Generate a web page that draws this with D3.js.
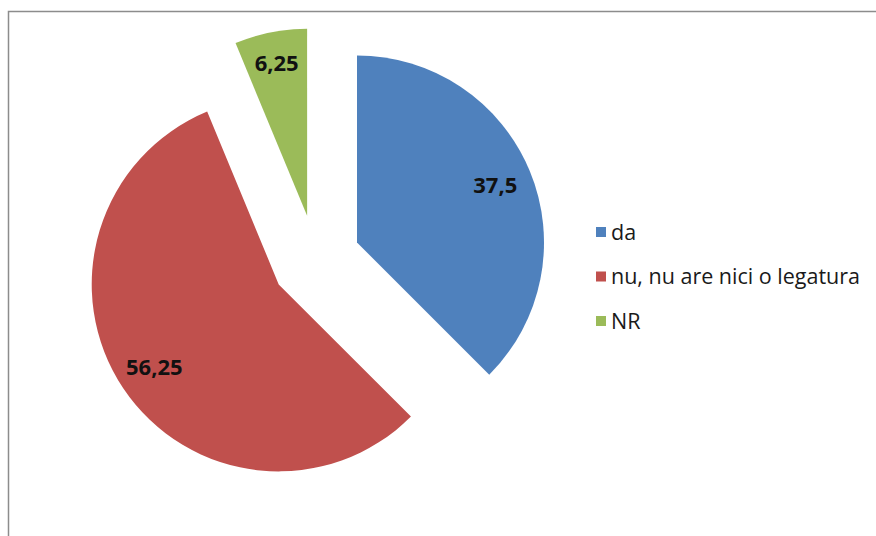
<!DOCTYPE html>
<html>
<head>
<meta charset="utf-8">
<script src="https://cdn.jsdelivr.net/npm/d3@7"></script>
<style>
  body { margin: 0; background: #fff; }
  svg { display: block; }
</style>
</head>
<body>
<div id="chart"></div>
<script>
// chart data
var categories = ["da", "nu, nu are nici o legatura", "NR"];
var values = [37.5, 56.25, 6.25];
var labels = ["37,5", "56,25", "6,25"];
var colors = ["#4F81BD", "#C0504D", "#9BBB59"];

var width = 876, height = 536;

var svg = d3.select("#chart").append("svg")
    .attr("width", width)
    .attr("height", height);

//chart area border
svg.append("rect")
    .attr("x", 8.5)
    .attr("y", 11.5)
    .attr("width", width + 20)
    .attr("height", height + 20)
    .attr("fill", "#fff")
    .attr("stroke", "#8c8c8c")
    .attr("stroke-width", 1.5);

//pie layout, clockwise from 12 o'clock, no sorting
var pie = d3.pie().sort(null).value(function(d){ return d; });
var slices = pie(values);

var radius = 187;
var explode = 44.6;
var cx = 315.8, cy = 259.6;

var arc = d3.arc().innerRadius(0).outerRadius(radius);

var g = svg.append("g").attr("transform", "translate(" + cx + "," + cy + ")");

var sliceG = g.selectAll(".slice")
    .data(slices)
    .enter().append("g")
    .attr("class", "slice")
    .attr("transform", function(d){
        var a = (d.startAngle + d.endAngle) / 2;
        return "translate(" + (explode * Math.sin(a)) + "," + (-explode * Math.cos(a)) + ")";
    });

sliceG.append("path")
    .attr("d", arc)
    .attr("fill", function(d, i){ return colors[i]; });

//labels: narrow slices get pushed a bit further out
sliceG.append("text")
    .attr("transform", function(d){
        var a = (d.startAngle + d.endAngle) / 2;
        var span = d.endAngle - d.startAngle;
        var r = span < 0.5 ? radius * 0.835 : radius * 0.8;
        return "translate(" + (r * Math.sin(a)) + "," + (-r * Math.cos(a)) + ")";
    })
    .attr("text-anchor", "middle")
    .attr("dy", "0.36em")
    .style("font-family", "'Open Sans', 'Liberation Sans', sans-serif")
    .style("font-weight", "bold")
    .style("font-size", "22px")
    .attr("fill", "#111")
    .text(function(d, i){ return labels[i]; });

//legend
var legend = svg.append("g").attr("transform", "translate(596,232)");

var item = legend.selectAll(".item")
    .data(categories)
    .enter().append("g")
    .attr("class", "item")
    .attr("transform", function(d, i){ return "translate(0," + (i * 44.5) + ")"; });

item.append("rect")
    .attr("x", 0)
    .attr("y", -5)
    .attr("width", 10)
    .attr("height", 10)
    .attr("fill", function(d, i){ return colors[i]; });

item.append("text")
    .attr("x", 15)
    .attr("dy", "0.35em")
    .style("font-family", "'Open Sans', 'Liberation Sans', sans-serif")
    .style("font-size", "21.5px")
    .attr("fill", "#1a1a1a")
    .text(function(d){ return d; });
</script>
</body>
</html>
